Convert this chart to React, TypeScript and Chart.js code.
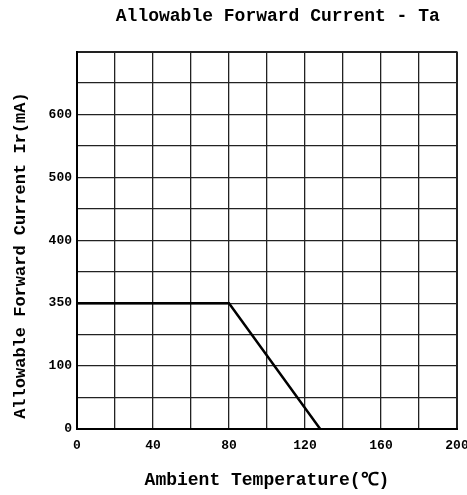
import React, { useEffect, useRef } from "react";
import { Chart, registerables } from "chart.js";

Chart.register(...registerables);

// Ambient temperature (°C) at the corners of the derating curve
const temperatures = [0, 80, 128];
// Allowable current expressed in grid rows (row 4 is labelled "350")
const currentRows = [4, 4, 0];
// Y tick labels at every second grid row, as printed on the chart
const yTickRows = [0, 2, 4, 6, 8, 10];
const yTickLabels = ["0", "100", "350", "400", "500", "600"];
// X tick labels (every second grid column)
const xTickValues = [0, 40, 80, 120, 160, 200];

const FONT = "'Liberation Mono', 'DejaVu Sans Mono', monospace";

export default function App() {
  const ref = useRef<HTMLCanvasElement | null>(null);

  useEffect(() => {
    document.body.style.margin = "0";
    const canvas = ref.current!;
    const points = temperatures.map((t, i) => ({ x: t, y: currentRows[i] }));
    const chart = new Chart(canvas, {
      type: "scatter",
      data: {
        datasets: [
          {
            data: points,
            showLine: true,
            borderColor: "#000",
            borderWidth: 2.5,
            pointRadius: 0,
            fill: false,
          },
        ],
      },
      options: {
        animation: false,
        responsive: false,
        maintainAspectRatio: false,
        devicePixelRatio: 1,
        layout: { padding: { left: 0, right: 10, top: 0, bottom: 0 } },
        plugins: {
          legend: { display: false },
          tooltip: { enabled: false },
          title: {
            display: true,
            text: "  Allowable Forward Current - Ta",
            fullSize: false,
            color: "#000",
            font: { family: FONT, size: 18, weight: "bold" },
            padding: { top: 6, bottom: 24 },
          },
        },
        scales: {
          x: {
            type: "linear",
            min: 0,
            max: 200,
            afterFit: (s: any) => {
              s.height = 66;
              s.paddingRight = 0;
              s.paddingLeft = 0;
            },
            ticks: {
              stepSize: 20,
              autoSkip: false,
              maxRotation: 0,
              color: "#000",
              padding: 9,
              font: { family: FONT, size: 13, weight: "bold" },
              callback: (v: any) => (xTickValues.includes(v) ? String(v) : ""),
            },
            grid: {
              color: "#222",
              drawTicks: false,
              lineWidth: (c: any) =>
                c.tick && (c.tick.value === 0 || c.tick.value === 200) ? 2 : 1.3,
            },
            border: { display: true, color: "#000", width: 2 },
            title: {
              display: true,
              text: "Ambient Temperature(℃)",
              color: "#000",
              font: { family: FONT, size: 18, weight: "bold" },
              padding: { top: 0, bottom: 4 },
            },
          },
          y: {
            type: "linear",
            min: 0,
            max: 12,
            afterFit: (s: any) => {
              s.width = 77;
              s.paddingTop = 0;
              s.paddingBottom = 0;
            },
            ticks: {
              stepSize: 1,
              autoSkip: false,
              color: "#000",
              padding: 5,
              font: { family: FONT, size: 13, weight: "bold" },
              callback: (v: any) => {
                const i = yTickRows.indexOf(v);
                return i >= 0 ? yTickLabels[i] : "";
              },
            },
            grid: {
              color: "#222",
              drawTicks: false,
              lineWidth: (c: any) =>
                c.tick && (c.tick.value === 0 || c.tick.value === 12) ? 2 : 1.3,
            },
            border: { display: true, color: "#000", width: 2 },
            title: {
              display: true,
              text: "Allowable Forward Current Ir(mA)   ",
              color: "#000",
              font: { family: FONT, size: 17, weight: "bold" },
              padding: { top: 11, bottom: 0 },
            },
          },
        },
      },
    });
    return () => chart.destroy();
  }, []);

  return (
    <div style={{ position: "fixed", left: 0, top: 0, width: 467, height: 495, background: "#fff" }}>
      <canvas ref={ref} width={467} height={495} style={{ width: 467, height: 495 }} />
    </div>
  );
}
